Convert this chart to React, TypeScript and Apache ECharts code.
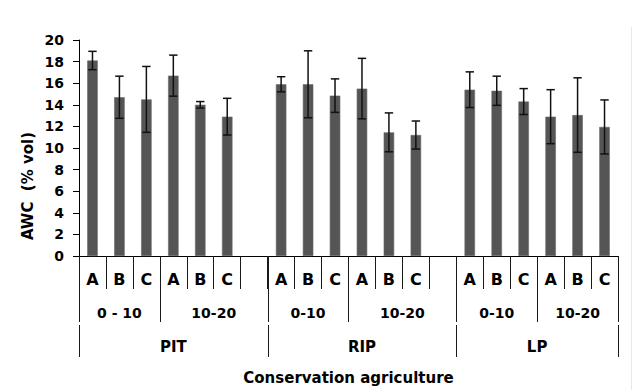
import React, { useEffect, useRef } from 'react';
import * as echarts from 'echarts';

// ---- data ----
const systems = ['PIT', 'RIP', 'LP'];
const depths = [
  ['0 - 10', '10-20'],
  ['0-10', '10-20'],
  ['0-10', '10-20'],
];
const conditions = ['A', 'B', 'C'];
const awcMean = [18.1, 14.7, 14.5, 16.7, 14.0, 12.9, 15.9, 15.9, 14.85, 15.5, 11.45, 11.2, 15.4, 15.3, 14.3, 12.9, 13.05, 11.95];
const awcErr = [0.85, 1.95, 3.05, 1.9, 0.3, 1.7, 0.7, 3.1, 1.55, 2.8, 1.8, 1.3, 1.65, 1.35, 1.2, 2.5, 3.45, 2.5];
const yMin = 0;
const yMax = 20;
const yInterval = 2;
const yAxisTitle = 'AWC  (% vol)';
const xAxisTitle = 'Conservation agriculture';

// ---- build slots (categories incl. gaps) ----
type Slot = { key: string; label: string; value: number | null; err: number | null };
type Span = { start: number; end: number; text: string; first: boolean };
const slots: Slot[] = [];
const depthSpans: Span[] = [];
const systemSpans: Span[] = [];
let k = 0;
systems.forEach((s, si) => {
  const sStart = slots.length;
  depths[si].forEach((d, di) => {
    const dStart = slots.length;
    conditions.forEach((c) => {
      slots.push({ key: `${s}|${d}|${c}`, label: c, value: awcMean[k], err: awcErr[k] });
      k++;
    });
    if (di === depths[si].length - 1 && si < systems.length - 1) {
      slots.push({ key: `${s}|gap`, label: '', value: null, err: null });
    }
    depthSpans.push({ start: dStart, end: slots.length, text: d, first: di === 0 });
  });
  systemSpans.push({ start: sStart, end: slots.length, text: s, first: si === 0 });
});

type Decor =
  | { kind: 'line'; at: number; y1: number; y2: number }
  | { kind: 'text'; from: number; to: number; y: number; text: string; size: number };

const decor: Decor[] = [];
depthSpans.forEach((sp) => {
  if (!sp.first) decor.push({ kind: 'line', at: sp.start, y1: 0, y2: 66 });
  decor.push({ kind: 'text', from: sp.start, to: sp.end, y: 57, text: sp.text, size: 14 });
});
systemSpans.forEach((sp, i) => {
  decor.push({ kind: 'line', at: sp.start, y1: 0, y2: 66 });
  decor.push({ kind: 'line', at: sp.start, y1: 69, y2: 101 });
  if (i === systemSpans.length - 1) {
    decor.push({ kind: 'line', at: sp.end, y1: 0, y2: 66 });
    decor.push({ kind: 'line', at: sp.end, y1: 69, y2: 101 });
  }
  decor.push({ kind: 'text', from: sp.start, to: sp.end, y: 91, text: sp.text, size: 15 });
});

const FONT = "'DejaVu Sans', 'Liberation Sans', Arial, sans-serif";

export default function App() {
  const ref = useRef<HTMLDivElement>(null);
  useEffect(() => {
    if (!ref.current) return;
    const chart = echarts.init(ref.current, null, { renderer: 'svg' });
    const n = slots.length;
    const boundaryX = (api: any, b: number) => {
      const bw = api.size([1, 0])[0];
      if (b < n) return api.coord([b, 0])[0] - bw / 2;
      return api.coord([n - 1, 0])[0] + bw / 2;
    };
    const crisp = (v: number) => Math.round(v) + 0.5;

    chart.setOption({
      animation: false,
      backgroundColor: '#ffffff',
      grid: { left: 79, right: 19, top: 40, bottom: 134, containLabel: false },
      xAxis: {
        type: 'category',
        data: slots.map((s) => s.key),
        boundaryGap: true,
        axisLine: { show: true, lineStyle: { color: '#000', width: 1 } },
        axisTick: { show: true, interval: 0, length: 33, lineStyle: { color: '#1a1a1a', width: 1 } },
        axisLabel: {
          interval: 0,
          margin: 15,
          formatter: (v: string) => {
            const s = slots.find((x) => x.key === v);
            return s ? s.label : '';
          },
          color: '#000',
          fontFamily: FONT,
          fontWeight: 'bold',
          fontSize: 16,
        },
        name: xAxisTitle,
        nameLocation: 'middle',
        nameGap: 114,
        nameTextStyle: { color: '#000', fontFamily: FONT, fontWeight: 'bold', fontSize: 15 },
      },
      yAxis: {
        type: 'value',
        min: yMin,
        max: yMax,
        interval: yInterval,
        splitLine: { show: false },
        axisLine: { show: true, lineStyle: { color: '#000', width: 1 } },
        axisTick: { show: true, length: 6, lineStyle: { color: '#000' } },
        axisLabel: { margin: 15, color: '#000', fontFamily: FONT, fontWeight: 'bold', fontSize: 14 },
      },
      graphic: [
        {
          type: 'text',
          x: 28,
          y: 186,
          rotation: Math.PI / 2,
          style: {
            text: yAxisTitle,
            fill: '#000',
            font: `bold 15px ${FONT}`,
            align: 'center',
            verticalAlign: 'middle',
          },
        },
        {
          type: 'line',
          shape: { x1: 631.5, y1: 27, x2: 631.5, y2: 390 },
          style: { stroke: '#e8e8e8', lineWidth: 1 },
        },
      ],
      series: [
        {
          type: 'bar',
          data: slots.map((s) => s.value),
          barWidth: 10.5,
          itemStyle: { color: '#555555', borderColor: '#6a6a6a', borderWidth: 0.6 },
          z: 2,
        },
        {
          type: 'custom',
          clip: false,
          z: 3,
          silent: true,
          encode: { x: 0, y: [1, 2] },
          data: slots
            .map((s, i) => (s.value == null ? null : [i, s.value - (s.err as number), s.value + (s.err as number)]))
            .filter((d) => d !== null),
          renderItem: (params: any, api: any) => {
            const lo = api.coord([api.value(0), api.value(1)]);
            const hi = api.coord([api.value(0), api.value(2)]);
            const x = lo[0];
            const half = 4.2;
            const st = { stroke: '#111', lineWidth: 1.5 };
            return {
              type: 'group',
              children: [
                { type: 'line', shape: { x1: x, y1: lo[1], x2: x, y2: hi[1] }, style: st },
                { type: 'line', shape: { x1: x - half, y1: lo[1], x2: x + half, y2: lo[1] }, style: st },
                { type: 'line', shape: { x1: x - half, y1: hi[1], x2: x + half, y2: hi[1] }, style: st },
              ],
            };
          },
        },
        {
          type: 'custom',
          clip: false,
          z: 4,
          silent: true,
          encode: { x: 0, y: 1 },
          data: decor.map(() => [0, 0]),
          renderItem: (params: any, api: any) => {
            const d = decor[params.dataIndex];
            const base = api.coord([0, 0])[1];
            if (d.kind === 'line') {
              const x = crisp(boundaryX(api, d.at));
              return {
                type: 'line',
                shape: { x1: x, y1: base + d.y1, x2: x, y2: base + d.y2 },
                style: { stroke: '#1a1a1a', lineWidth: 1 },
              };
            }
            const cx = (boundaryX(api, d.from) + boundaryX(api, d.to)) / 2;
            return {
              type: 'text',
              x: cx,
              y: base + d.y,
              style: {
                text: d.text,
                fill: '#000',
                font: `bold ${d.size}px ${FONT}`,
                align: 'center',
                verticalAlign: 'middle',
              },
            };
          },
        },
      ],
    });
    return () => chart.dispose();
  }, []);

  return (
    <div
      ref={ref}
      style={{ position: 'fixed', left: 0, top: 0, width: 637, height: 390, background: '#fff' }}
    />
  );
}
